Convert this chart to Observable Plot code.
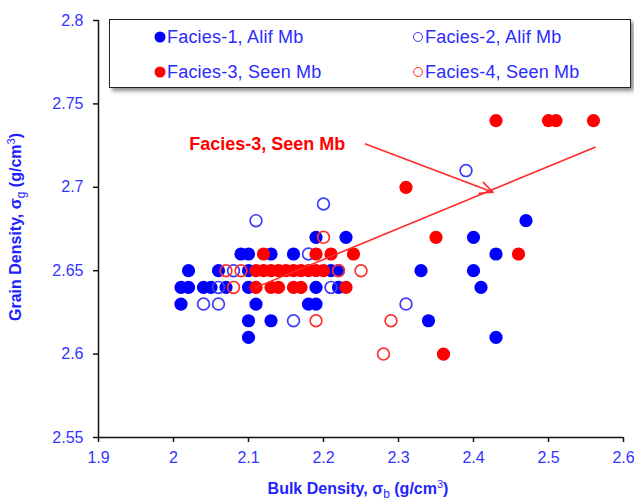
<!DOCTYPE html>
<html><head><meta charset="utf-8">
<script src="https://cdn.jsdelivr.net/npm/d3@7"></script>
<script src="https://cdn.jsdelivr.net/npm/@observablehq/plot@0.6"></script>
<style>
body{margin:0;background:#fff;}
#wrap{position:relative;width:634px;height:501px;font-family:"Liberation Sans",Arial,sans-serif;}
#legend{position:absolute;left:109px;top:19px;width:520px;height:67px;border:1.6px solid #222;background:#fff;box-shadow:3px 3px 4px rgba(0,0,0,0.45);}
.li{position:absolute;font-size:18px;color:#2b2bff;white-space:nowrap;line-height:20px;transform:translateY(-50%);letter-spacing:0.2px;}
.mk{position:absolute;border-radius:50%;box-sizing:border-box;transform:translate(-50%,-50%);}
</style></head><body><div id="wrap"></div>
<script>
// Tick values
const xTicks = [1.9, 2.0, 2.1, 2.2, 2.3, 2.4, 2.5, 2.6];
const yTicks = [2.55, 2.6, 2.65, 2.7, 2.75, 2.8];

// Facies-1, Alif Mb (filled blue) : [bulk density, grain density]
const facies1 = [
  [2.19,2.67],[2.23,2.67],[2.40,2.67],
  [2.09,2.66],[2.10,2.66],[2.13,2.66],[2.16,2.66],[2.43,2.66],
  [2.02,2.65],[2.06,2.65],[2.10,2.65],[2.21,2.65],[2.22,2.65],[2.33,2.65],[2.40,2.65],
  [2.01,2.64],[2.02,2.64],[2.04,2.64],[2.05,2.64],[2.07,2.64],[2.10,2.64],[2.19,2.64],[2.22,2.64],[2.41,2.64],
  [2.01,2.63],[2.11,2.63],[2.18,2.63],[2.19,2.63],
  [2.10,2.62],[2.13,2.62],[2.34,2.62],
  [2.10,2.61],[2.43,2.61],
  [2.47,2.68]
];
// Facies-2, Alif Mb (open blue)
const facies2 = [
  [2.39,2.71],[2.20,2.69],[2.11,2.68],[2.18,2.66],[2.08,2.65],
  [2.06,2.64],[2.21,2.64],[2.04,2.63],[2.06,2.63],[2.31,2.63],[2.16,2.62]
];
// Facies-3, Seen Mb (filled red)
const facies3 = [
  [2.43,2.74],[2.50,2.74],[2.51,2.74],[2.56,2.74],[2.31,2.70],[2.35,2.67],
  [2.12,2.66],[2.19,2.66],[2.21,2.66],[2.24,2.66],[2.46,2.66],
  [2.11,2.65],[2.12,2.65],[2.13,2.65],[2.14,2.65],[2.15,2.65],[2.16,2.65],[2.17,2.65],[2.18,2.65],[2.19,2.65],[2.20,2.65],
  [2.11,2.64],[2.13,2.64],[2.14,2.64],[2.16,2.64],[2.17,2.64],[2.23,2.64],
  [2.36,2.60]
];
// Facies-4, Seen Mb (open red)
const facies4 = [
  [2.20,2.67],[2.07,2.65],[2.09,2.65],[2.22,2.65],[2.25,2.65],[2.08,2.64],[2.19,2.62],[2.29,2.62],[2.28,2.60]
];
// Facies-3 trend line and annotation
const trend = [[2.11,2.640],[2.562,2.724]];
const arrowSeg = [{x1:2.256, y1:2.726, x2:2.426, y2:2.697}];
const annot = [{x:2.125, y:2.7256, label:"Facies-3, Seen Mb"}];

// Legend entries
const legendLabels = ["Facies-1, Alif Mb","Facies-2, Alif Mb","Facies-3, Seen Mb","Facies-4, Seen Mb"];
const legendColors = ["#0000ff","#3c3cff","#ff0000","#ff3030"];
const legendFilled = [true,false,true,false];

const fmt = d => String(+d.toFixed(2));
const BLUE = "#0000ff", RED = "#ff0000";

const chart = Plot.plot({
  width:634, height:501,
  marginLeft:98, marginRight:11, marginTop:20, marginBottom:64,
  style:{fontFamily:'"Liberation Sans",Arial,sans-serif', fontSize:"16px", background:"white", overflow:"visible"},
  x:{domain:[1.9,2.6], ticks:xTicks, tickFormat:fmt, tickSize:5, tickPadding:9, label:null},
  y:{domain:[2.55,2.8], ticks:yTicks, tickFormat:fmt, tickSize:5, tickPadding:10, label:null},
  marks:[
    Plot.ruleX([1.9],{stroke:"#111", strokeWidth:1.5}),
    Plot.ruleY([2.55],{stroke:"#111", strokeWidth:1.5}),
    Plot.dot(facies1,{x:d=>d[0], y:d=>d[1], r:6.6, fill:BLUE}),
    Plot.dot(facies2,{x:d=>d[0], y:d=>d[1], r:5.9, stroke:"#3c3cff", strokeWidth:1.7, fill:"none"}),
    Plot.dot(facies3,{x:d=>d[0], y:d=>d[1], r:6.6, fill:RED}),
    Plot.dot(facies4,{x:d=>d[0], y:d=>d[1], r:5.9, stroke:"#ff3030", strokeWidth:1.7, fill:"none"}),
    Plot.line(trend,{x:d=>d[0], y:d=>d[1], stroke:"#ff2a2a", strokeWidth:1.6}),
    Plot.arrow(arrowSeg,{x1:"x1", y1:"y1", x2:"x2", y2:"y2", stroke:"#ff2a2a", strokeWidth:1.6, headLength:13, headAngle:50}),
    Plot.text(annot,{x:"x", y:"y", text:"label", fill:"#ff0000", fontWeight:"bold", fontSize:18})
  ]
});

const svg = d3.select(chart);
svg.selectAll('g[aria-label="x-axis tick label"], g[aria-label="y-axis tick label"]').attr("fill","#3434ff");
svg.selectAll('g[aria-label="x-axis tick"], g[aria-label="y-axis tick"]').attr("stroke","#111").attr("stroke-width",1.5);

// Axis titles with subscript / superscript
const xt = svg.append("text").attr("x",358).attr("y",494).attr("text-anchor","middle")
  .attr("font-weight","bold").attr("font-size",16).attr("fill","#1f1fff");
xt.append("tspan").text("Bulk Density, σ");
xt.append("tspan").attr("dy",4).attr("font-size",12).attr("font-weight","normal").text("b");
xt.append("tspan").attr("dy",-4).text(" (g/cm");
xt.append("tspan").attr("dy",-6).attr("font-size",11).attr("font-weight","normal").text("3");
xt.append("tspan").attr("dy",6).text(")");

const yt = svg.append("text").attr("transform","translate(21,227) rotate(-90)").attr("text-anchor","middle")
  .attr("font-weight","bold").attr("font-size",16).attr("fill","#1f1fff");
yt.append("tspan").text("Grain Density, σ");
yt.append("tspan").attr("dy",4).attr("font-size",12).attr("font-weight","normal").text("g");
yt.append("tspan").attr("dy",-4).text(" (g/cm");
yt.append("tspan").attr("dy",-6).attr("font-size",11).attr("font-weight","normal").text("3");
yt.append("tspan").attr("dy",6).text(")");

const wrap = document.getElementById("wrap");
wrap.appendChild(chart);

// Legend box overlay
const leg = document.createElement("div");
leg.id = "legend";
wrap.appendChild(leg);
const colX = [50, 308], rowY = [16.5, 51.5];
legendLabels.forEach((lab,i) => {
  const cx = colX[i%2], cy = rowY[Math.floor(i/2)];
  const mk = document.createElement("div");
  mk.className = "mk";
  mk.style.left = cx + "px"; mk.style.top = cy + "px";
  if (legendFilled[i]) { mk.style.width = "11px"; mk.style.height = "11px"; mk.style.background = legendColors[i]; }
  else { mk.style.width = "10px"; mk.style.height = "10px"; mk.style.border = "1.6px solid " + legendColors[i]; }
  leg.appendChild(mk);
  const t = document.createElement("div");
  t.className = "li";
  t.style.left = (cx + 7) + "px"; t.style.top = cy + "px";
  t.textContent = lab;
  leg.appendChild(t);
});
</script></body></html>
